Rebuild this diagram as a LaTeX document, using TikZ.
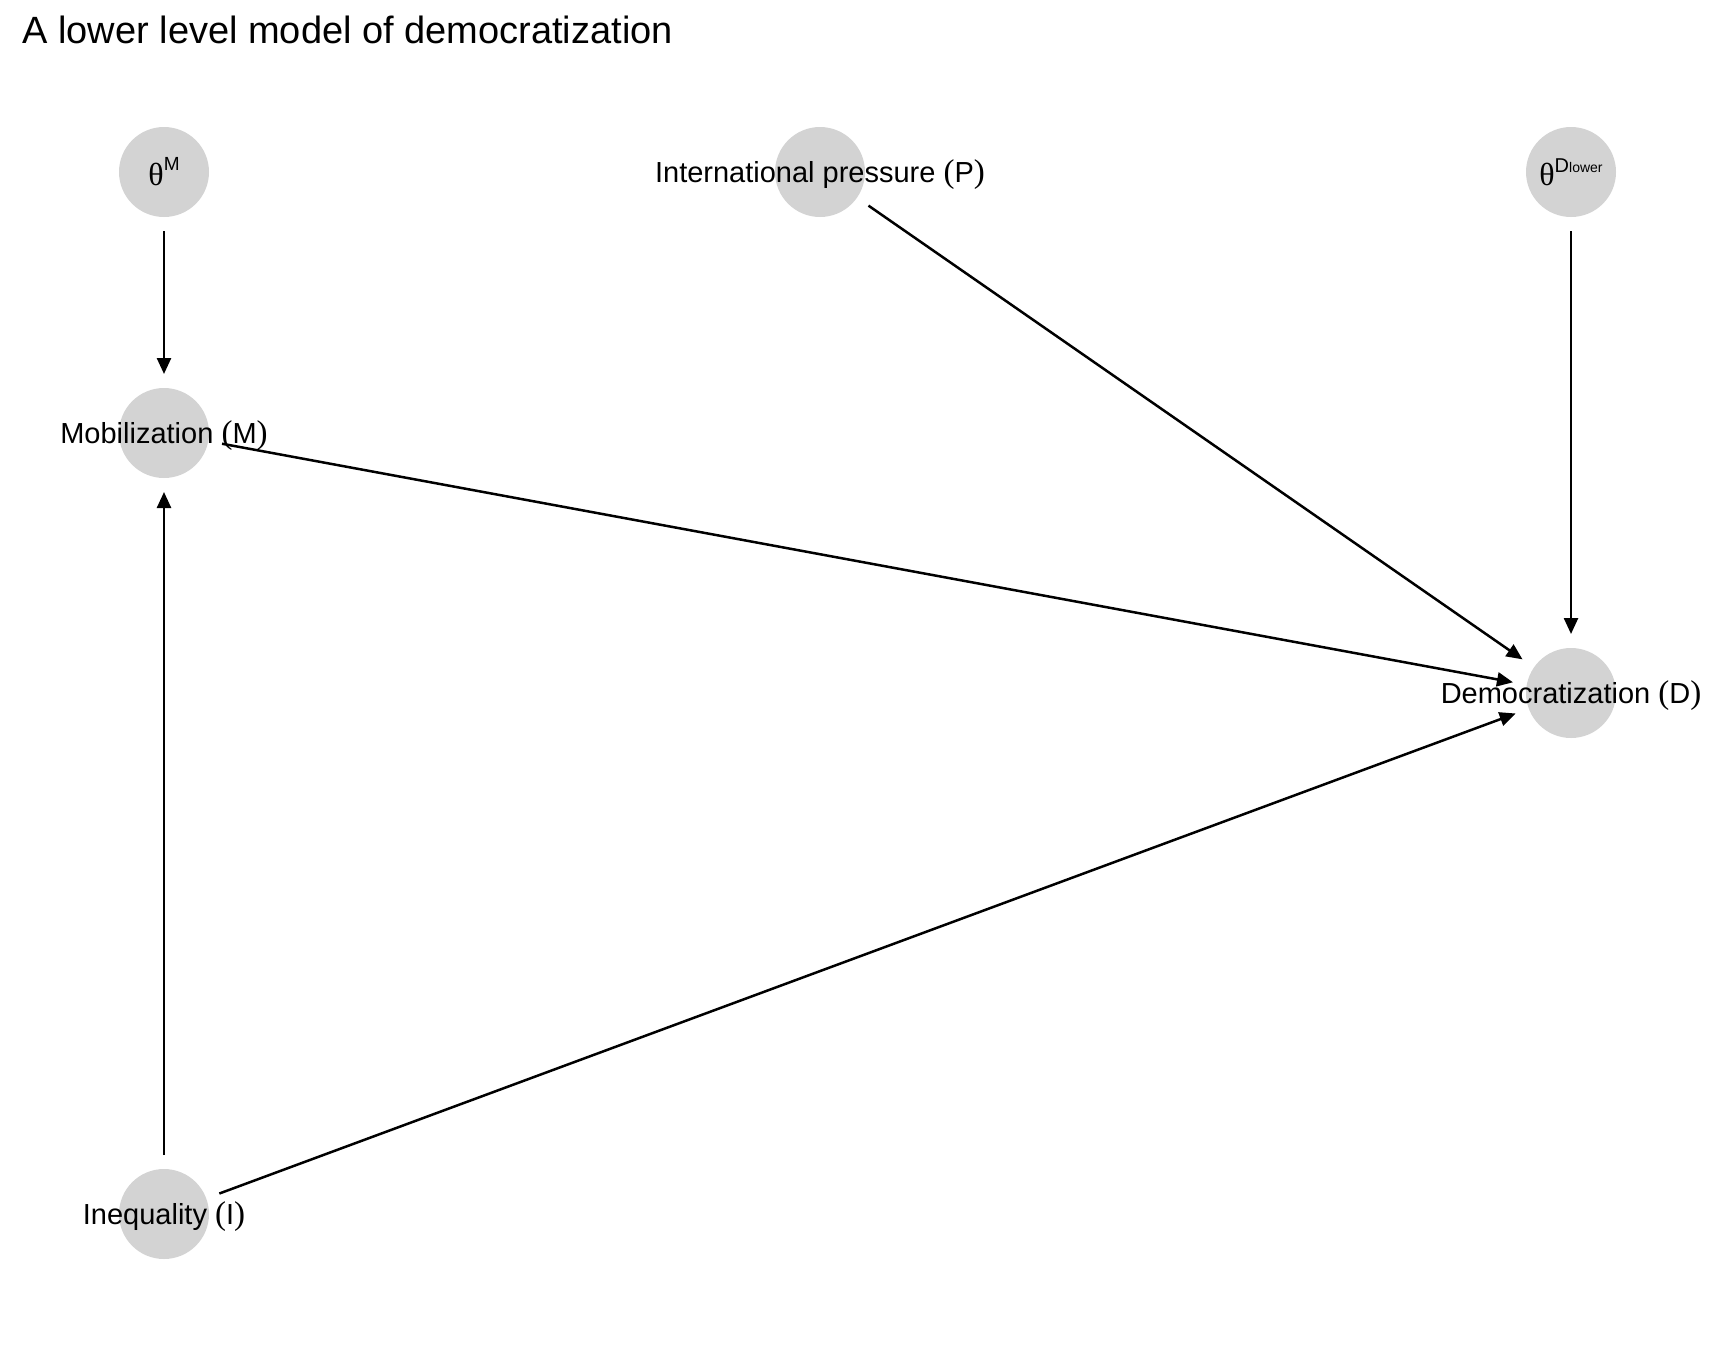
\documentclass[tikz,border=0pt]{standalone}
\usepackage{fontspec}
\setmainfont{Liberation Sans}
\newfontfamily\symfont{Liberation Serif}
\usetikzlibrary{arrows.meta}
\definecolor{dagfill}{HTML}{D3D3D3}
\newcommand{\parlabel}[2]{#1 {\symfont\fontsize{16.5pt}{17pt}\selectfont(}#2{\symfont\fontsize{16.5pt}{17pt}\selectfont)}}

\begin{document}
\begin{tikzpicture}[
                    x=0.5pt, y=-0.5pt,
                    font=\fontsize{14.5pt}{17pt}\selectfont,
                    var/.style={circle, fill=dagfill, minimum size=45pt, inner sep=0pt, outer sep=7pt},
                    lab/.style={yshift=-1.2pt},
                    edge/.style={->, line width=1.25pt},
                    >={Triangle[length=8pt, width=7pt]}
                ]
                    \useasboundingbox (0,0) rectangle (1728,1344);
                    \node[anchor=base west, inner sep=0pt, font=\fontsize{19pt}{22pt}\selectfont] (title) at (22,43) {A lower level model of democratization};
                    % nodes
                    \node[var, label=center:{{\symfont\fontsize{16pt}{17pt}\selectfont θ}\raisebox{7.5pt}{\fontsize{9.5pt}{10pt}\selectfont M}}] (tM) at (164,172) {};
                    \node[var, label={[lab]center:{\parlabel{International pressure}{P}}}] (P) at (820,172) {};
                    \node[var, label=center:{{\symfont\fontsize{16pt}{17pt}\selectfont θ}\raisebox{6.5pt}{\fontsize{10pt}{10pt}\selectfont D\fontsize{7pt}{7pt}\selectfont lower}}] (tD) at (1571,172) {};
                    \node[var, label={[lab]center:{\parlabel{Mobilization}{M}}}] (M) at (164,433) {};
                    \node[var, label={[lab]center:{\parlabel{Democratization}{D}}}] (D) at (1571,693) {};
                    \node[var, label={[lab]center:{\parlabel{Inequality}{I}}}] (I) at (164,1214) {};
                    % edges
                    \draw[edge] (tM) -- (M);
                    \draw[edge] (I) -- (M);
                    \draw[edge] (M) -- (D);
                    \draw[edge] (P) -- (D);
                    \draw[edge] (tD) -- (D);
                    \draw[edge] (I) -- (D);
                \end{tikzpicture}
\end{document}
